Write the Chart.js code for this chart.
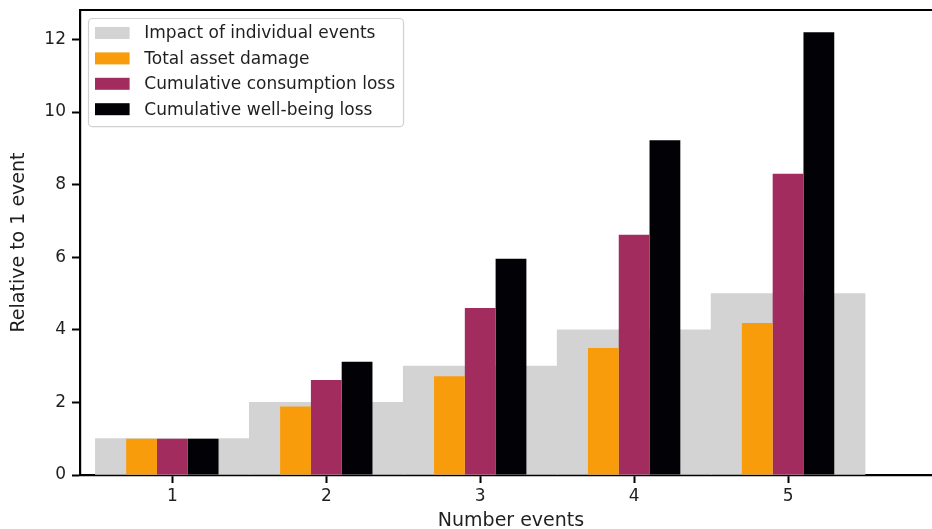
<!DOCTYPE html>
<html>
<head>
<meta charset="utf-8">
<script src="https://cdn.jsdelivr.net/npm/chart.js@4.4.1/dist/chart.umd.min.js"></script>
<style>
  html, body { margin: 0; padding: 0; overflow: hidden; background: #fff; }
  #wrap { width: 944px; height: 529px; }
</style>
</head>
<body>
<div id="wrap"><canvas id="c" width="944" height="529"></canvas></div>
<script>
// Number of events on the x axis
const eventCounts = [1, 2, 3, 4, 5];
// Impact relative to a single event
const individualImpact = [1, 2, 3, 4, 5];
const assetDamage = [1, 1.89, 2.72, 3.50, 4.19];
const consumptionLoss = [1, 2.62, 4.60, 6.62, 8.30];
const wellbeingLoss = [1, 3.12, 5.96, 9.22, 12.20];
const yTickValues = [0, 2, 4, 6, 8, 10, 12];
const seriesLabels = [
  'Impact of individual events',
  'Total asset damage',
  'Cumulative consumption loss',
  'Cumulative well-being loss'
];
const seriesColors = ['#d3d3d3', '#f99c0b', '#a32c5f', '#020106'];

const FONT = '"DejaVu Sans", sans-serif';
const TEXT = '#1f1f1f';

const toPoints = vals => eventCounts.map((x, i) => ({ x, y: vals[i] }));

// Framed legend in the upper-left corner of the plot area
const framedLegend = {
  id: 'framedLegend',
  afterDraw(chart) {
    const { ctx, chartArea } = chart;
    const fontSize = 17;
    const rowH = 25.4;
    const x0 = chartArea.left + 8;
    const y0 = chartArea.top + 8;
    ctx.save();
    ctx.font = fontSize + 'px ' + FONT;
    const labels = chart.data.datasets.map(d => d.label);
    const maxW = Math.max(...labels.map(l => ctx.measureText(l).width));
    const boxW = 34.6, boxH = 12;
    const w = 7 + boxW + 14.7 + maxW + 8;
    const h = 15 + rowH * (labels.length - 1) + 17;
    ctx.beginPath();
    ctx.roundRect(x0 + 0.5, y0 + 0.5, w, h, 4);
    ctx.fillStyle = 'rgba(255,255,255,0.8)';
    ctx.fill();
    ctx.lineWidth = 1.2;
    ctx.strokeStyle = '#d0d0d0';
    ctx.stroke();
    ctx.textBaseline = 'middle';
    ctx.textAlign = 'left';
    chart.data.datasets.forEach((d, i) => {
      const cy = y0 + 15 + rowH * i;
      ctx.fillStyle = d.backgroundColor;
      ctx.fillRect(x0 + 7, cy - boxH / 2, boxW, boxH);
      ctx.fillStyle = TEXT;
      ctx.fillText(d.label, x0 + 7 + boxW + 14.7, cy + 1);
    });
    ctx.restore();
  }
};

// Top frame line of the axes box
const topSpine = {
  id: 'topSpine',
  afterDraw(chart) {
    const { ctx, chartArea } = chart;
    ctx.save();
    ctx.strokeStyle = '#000';
    ctx.lineWidth = 2.2;
    ctx.beginPath();
    ctx.moveTo(chartArea.left - 1, chartArea.top);
    ctx.lineTo(chartArea.right + 1, chartArea.top);
    ctx.stroke();
    ctx.restore();
  }
};

const axisGrid = {
  display: true,
  offset: false,
  drawOnChartArea: false,
  drawTicks: true,
  tickLength: 8,
  tickWidth: 2,
  tickColor: '#000'
};

new Chart(document.getElementById('c'), {
  type: 'bar',
  data: {
    datasets: [
      {
        // full-width background step for each event count
        label: seriesLabels[0],
        data: toPoints(individualImpact),
        backgroundColor: seriesColors[0],
        grouped: false,
        categoryPercentage: 1,
        barPercentage: 1,
        order: 2
      },
      {
        label: seriesLabels[1],
        data: toPoints(assetDamage),
        backgroundColor: seriesColors[1],
        categoryPercentage: 0.6,
        barPercentage: 1,
        order: 1
      },
      {
        label: seriesLabels[2],
        data: toPoints(consumptionLoss),
        backgroundColor: seriesColors[2],
        categoryPercentage: 0.6,
        barPercentage: 1,
        order: 1
      },
      {
        label: seriesLabels[3],
        data: toPoints(wellbeingLoss),
        backgroundColor: seriesColors[3],
        categoryPercentage: 0.6,
        barPercentage: 1,
        order: 1
      }
    ]
  },
  options: {
    responsive: false,
    animation: false,
    devicePixelRatio: 1,
    layout: { padding: { top: 10, right: 2, left: 0, bottom: -3 } },
    plugins: {
      legend: { display: false },
      tooltip: { enabled: false }
    },
    scales: {
      x: {
        type: 'linear',
        position: 'bottom',
        offset: false,
        min: 0.4,
        max: 6.0,
        afterBuildTicks: s => { s.ticks = eventCounts.map(v => ({ value: v })); },
        afterFit: s => { s.height = 57; s.paddingLeft = 0; s.paddingRight = 0; },
        grid: axisGrid,
        border: { display: true, color: '#000', width: 2.2 },
        ticks: {
          font: { family: FONT, size: 17 },
          color: TEXT,
          padding: 3,
          maxRotation: 0,
          callback: v => String(v)
        },
        title: {
          display: true,
          text: 'Number events',
          font: { family: FONT, size: 19 },
          color: TEXT,
          padding: { top: 2, bottom: 0 }
        }
      },
      y: {
        min: 0,
        max: 12.81,
        afterBuildTicks: s => { s.ticks = yTickValues.map(v => ({ value: v })); },
        afterFit: s => { s.width = 80; s.paddingTop = 0; s.paddingBottom = 0; },
        grid: axisGrid,
        border: { display: true, color: '#000', width: 2.2 },
        ticks: {
          font: { family: FONT, size: 17 },
          color: TEXT,
          padding: 6,
          callback: v => String(v)
        },
        title: {
          display: true,
          text: 'Relative to 1 event',
          font: { family: FONT, size: 19 },
          color: TEXT,
          padding: { top: 8, bottom: 0 }
        }
      }
    }
  },
  plugins: [framedLegend, topSpine]
});
</script>
</body>
</html>
